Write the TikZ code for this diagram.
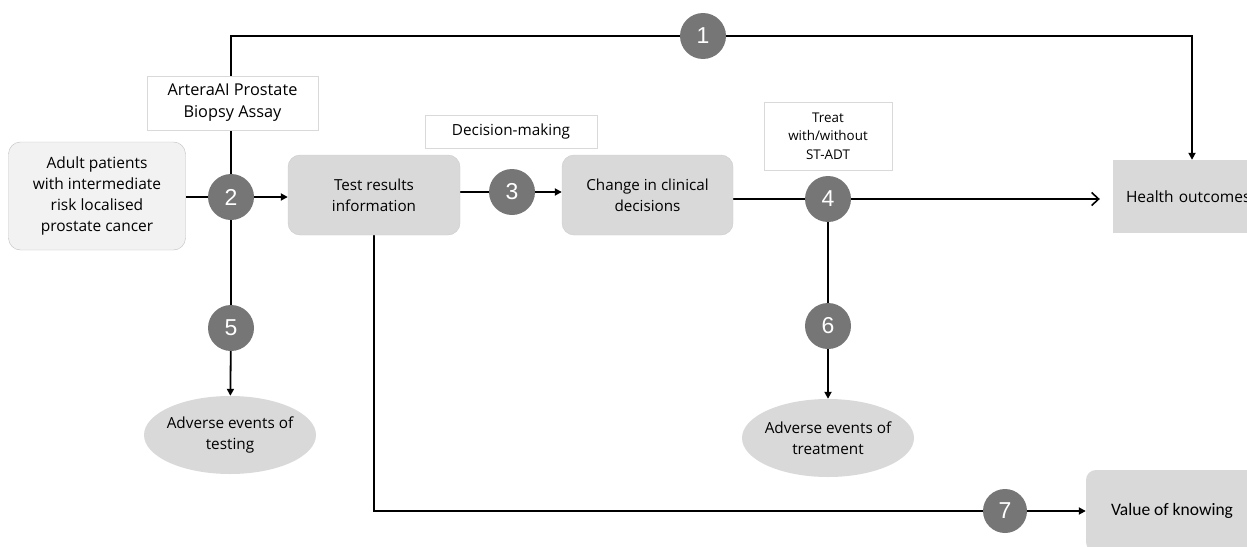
\documentclass[tikz,border=0pt]{standalone}
\usepackage{fontspec}
\setmainfont{Open Sans}
\newfontfamily\numfont{Liberation Sans}
\newfontfamily\calfont{Carlito}
\usetikzlibrary{arrows.meta,shapes.geometric,backgrounds}
\definecolor{boxgray}{HTML}{D9D9D9}
\definecolor{lightbox}{HTML}{F2F2F2}
\definecolor{edgegray}{HTML}{BFBFBF}
\definecolor{circgray}{HTML}{767676}
\tikzset{
  mainbox/.style={draw=boxgray!80!black!30!boxgray, fill=boxgray, rounded corners=12pt, align=center, inner sep=0pt, font=\fontsize{15.2}{21}\selectfont},
  labelbox/.style={draw=edgegray!60, fill=white, align=center, inner sep=0pt},
  numcirc/.style={circle, fill=circgray, text=white, inner sep=0pt, minimum size=46pt, font=\numfont\fontsize{23}{23}\selectfont},
  aeell/.style={ellipse, fill=boxgray, align=center, inner xsep=-14pt, inner ysep=-6pt, minimum width=172pt, minimum height=78pt, font=\fontsize{15.3}{21}\selectfont},
  conn/.style={line width=1.8pt, black},
  arr/.style={conn, -{Triangle[width=7pt,length=7pt]}},
  openarr/.style={conn, -{Straight Barb[width=13pt,length=7pt,line width=1.6pt]}}
}
\begin{document}
\begin{tikzpicture}[x=1pt,y=-1pt]
\useasboundingbox (0,0) rectangle (1247,546);
% nodes
\node[mainbox, draw=edgegray, fill=lightbox, minimum width=177pt, minimum height=108pt, font=\fontsize{15.5}{21}\selectfont] (adult) at (97,196) {Adult patients\\with intermediate\\risk localised\\prostate cancer};
\node[labelbox, minimum width=171pt, minimum height=54pt, font=\fontsize{16.3}{22}\selectfont] (artera) at (232.5,103) {ArteraAI Prostate\\Biopsy Assay};
\node[mainbox, minimum width=172pt, minimum height=80pt] (test) at (374,195) {Test results\\information};
\node[labelbox, minimum width=172pt, minimum height=33pt, font=\fontsize{15.3}{18}\selectfont] (decision) at (511,131.5) {Decision-making};
\node[mainbox, minimum width=171pt, minimum height=80pt] (change) at (647.5,195) {Change in clinical\\decisions};
\node[labelbox, minimum width=128pt, minimum height=68pt, font=\fontsize{13.4}{18.5}\selectfont] (treat) at (828,136) {Treat\\with/without\\ST-ADT};
\node[fill=boxgray, minimum width=187pt, minimum height=73pt, text width=161pt, align=left, inner xsep=13pt, inner ysep=0pt, font=\fontsize{15.5}{20}\selectfont] (health) at (1206.5,196.5) {Health outcomes};
\node[fill=boxgray, rounded corners=10pt, minimum width=172pt, minimum height=82pt, inner sep=0pt, font=\calfont\fontsize{17.5}{20}\selectfont] (value) at (1172,511) {Value of knowing};
\node[aeell] (ae1) at (230,435) {Adverse events of\\testing};
\node[aeell] (ae2) at (828,438) {Adverse events of\\treatment};
\node[numcirc] (c1) at (703,36) {1};
\node[numcirc] (c2) at (231,197) {2};
\node[numcirc] (c3) at (512,192) {3};
\node[numcirc] (c4) at (828,199) {4};
\node[numcirc] (c5) at (231,328) {5};
\node[numcirc] (c6) at (828,326) {6};
\node[numcirc, minimum size=44pt] (c7) at (1005,511) {7};
\coordinate (tl) at (231,36);
\coordinate (tr) at (1192,36);
\coordinate (bl) at (374,511);
% connectors
\begin{pgfonlayer}{background}
\draw[conn] (c2) -- (tl) -- (c1);
\draw[arr] (c1) -- (tr) -- (tr |- health.north);
\draw[conn] (adult.east |- c2) -- (c2);
\draw[arr] (c2) -- (test.west |- c2);
\draw[conn] (c2) -- (c5);
\draw[arr] (c5) -- (ae1);
\draw[conn] (test.east |- c3) -- (c3);
\draw[arr] (c3) -- (change.west |- c3);
\draw[conn] (change.east |- c4) -- (c4);
\draw[openarr, shorten >=13pt] (c4) -- (health.west |- c4);
\draw[conn] (c4) -- (c6);
\draw[arr] (c6) -- (ae2);
\draw[conn] (test.south -| bl) -- (bl) -- (c7);
\draw[arr] (c7) -- (value);
\end{pgfonlayer}
\end{tikzpicture}
\end{document}
